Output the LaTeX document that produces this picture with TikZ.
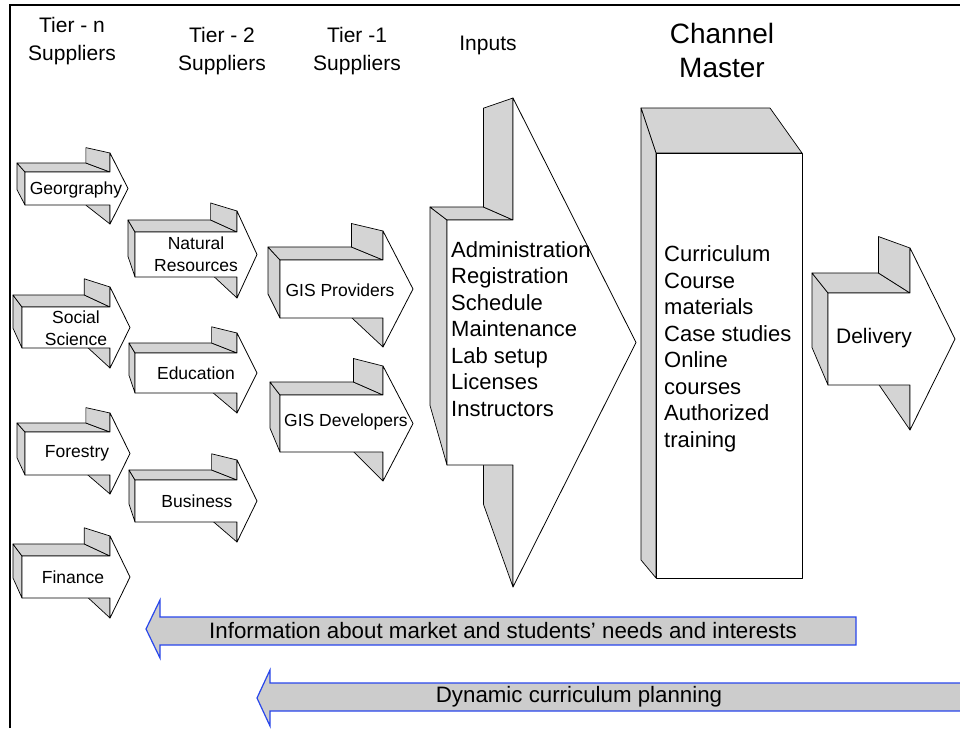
\documentclass[tikz,border=0pt]{standalone}
\usepackage{fontspec}
\setmainfont{Liberation Sans}
\usepackage{tikz}
\usetikzlibrary{calc}
\usepackage{xcolor}
\definecolor{facegray}{RGB}{212,212,212}
\definecolor{bandgray}{RGB}{204,204,204}
\definecolor{bandblue}{RGB}{40,70,235}

% 3D block arrow: name, left, shaft top, shaft bottom, neck, head overhang, tip, back dx, back dy
\newcommand{\tdarrow}[9]{%
  \coordinate (#1-a) at (#2,#3);
  \coordinate (#1-b) at (#5,#3);
  \coordinate (#1-c) at (#5,#3-#6);
  \coordinate (#1-d) at (#7,#3/2+#4/2);
  \coordinate (#1-e) at (#5,#4+#6);
  \coordinate (#1-f) at (#5,#4);
  \coordinate (#1-g) at (#2,#4);
  \coordinate (#1-v) at (#2+#8/0.19,#3+#9/0.19);
  \foreach \p in {a,b,c,e,f,g}
    \coordinate (#1-\p b) at ($(#1-\p)!0.19!(#1-v)$);
  \draw[side] (#1-a) -- (#1-ab) -- (#1-gb) -- (#1-g) -- cycle;
  \draw[side] (#1-a) -- (#1-ab) -- (#1-bb) -- (#1-b) -- cycle;
  \draw[side] (#1-b) -- (#1-bb) -- (#1-cb) -- (#1-c) -- cycle;
  \draw[side] (#1-f) -- (#1-fb) -- (#1-eb) -- (#1-e) -- cycle;
  \draw[front] (#1-a) -- (#1-b) -- (#1-c) -- (#1-d) -- (#1-e) -- (#1-f) -- (#1-g) -- cycle;
}

\tikzset{
  side/.style={fill=facegray, draw=black, line width=0.7pt, line join=round},
  front/.style={fill=white, draw=black, line width=0.8pt, line join=round},
  band/.style={fill=bandgray, draw=bandblue, line width=1.2pt, line join=miter},
  small/.style={font=\fontsize{17.5}{22}\selectfont, align=center, inner sep=0pt},
  list/.style={font=\fontsize{22}{26.5}\selectfont, align=left, inner sep=0pt, anchor=west},
  head/.style={font=\fontsize{21}{28}\selectfont, align=center, inner sep=0pt},
}

\begin{document}
\begin{tikzpicture}[x=1pt, y=-1pt]
    \useasboundingbox (0,0) rectangle (960,728);
    \draw[line width=2pt] (10,728) -- (10,5) -- (960,5);

    % column titles
    \node[head] (tiern) at (72,41) {Tier - n\\Suppliers};
    \node[head] (tier2) at (222,51) {Tier - 2\\Suppliers};
    \node[head] (tier1) at (357,51) {Tier -1\\Suppliers};
    \node[head] (inputs) at (488,45) {Inputs};
    \node[head, font=\fontsize{28}{34}\selectfont] (master) at (722,50) {Channel\\Master};

    % tier-n suppliers
    \tdarrow{geo}{25}{172}{205}{110}{19}{128}{-8}{-9}
    \tdarrow{soc}{22}{307}{348}{110}{20}{130}{-9}{-12}
    \tdarrow{for}{25}{432}{475}{110}{19}{130}{-8}{-9}
    \tdarrow{fin}{22}{556}{598}{110}{20}{130}{-9}{-12}
    \node[small] (geotxt) at (76,190) {Georgraphy};
    \node[small] (soctxt) at (76,328) {Social\\Science};
    \node[small] (fortxt) at (77,453) {Forestry};
    \node[small] (fintxt) at (73,577) {Finance};

    % tier-2 suppliers
    \tdarrow{nat}{135}{232}{277}{237}{21}{257}{-7}{-12}
    \tdarrow{edu}{135}{353}{393}{237}{20}{257}{-6}{-10}
    \tdarrow{bus}{135}{480}{522}{237}{20}{257}{-6}{-10}
    \node[small] (nattxt) at (196,254) {Natural\\Resources};
    \node[small] (edutxt) at (196,373) {Education};
    \node[small] (bustxt) at (197,501) {Business};

    % tier-1 suppliers
    \tdarrow{gisp}{280}{260}{318}{383}{29}{413}{-12}{-13}
    \tdarrow{gisd}{280}{395}{452}{383}{29}{413}{-10}{-13}
    \node[small] (gisptxt) at (340,290) {GIS Providers};
    \node[small] (gisdtxt) at (346,422) {GIS Developers};

    % inputs
    \tdarrow{inp}{447}{220}{465}{513}{122}{636}{-17}{-13}
    \node[list] (inptxt) at (451,329) {Administration\\Registration\\Schedule\\Maintenance\\Lab setup\\Licenses\\Instructors};

    % channel master box
    \draw[side] (641,108) -- (770,108) -- (802,153) -- (656,153) -- cycle;
    \draw[side] (641,108) -- (656,153) -- (656,578) -- (641,560) -- cycle;
    \draw[front] (656,153) rectangle (802,578);
    \node[list] (mastxt) at (664,349) {Curriculum\\Course\\materials\\Case studies\\Online\\courses\\Authorized\\training};

    % delivery
    \tdarrow{del}{828}{293}{385}{910}{45}{955}{-16}{-20}
    \node[small, font=\fontsize{21}{26}\selectfont] (deltxt) at (874,338) {Delivery};

    % feedback bands
    \draw[band] (856,617) -- (160,617) -- (160,600) -- (146,629) -- (160,658) -- (160,645) -- (856,645) -- cycle;
    \node[head, font=\fontsize{22.3}{27}\selectfont] (infotxt) at (503,631) {Information about market and students’ needs and interests};
    \draw[band] (966,683) -- (270,683) -- (270,670) -- (257,698) -- (270,726) -- (270,711) -- (966,711);
    \node[head, font=\fontsize{22.3}{27}\selectfont] (plantxt) at (579,697) {Dynamic curriculum planning};
\end{tikzpicture}
\end{document}
